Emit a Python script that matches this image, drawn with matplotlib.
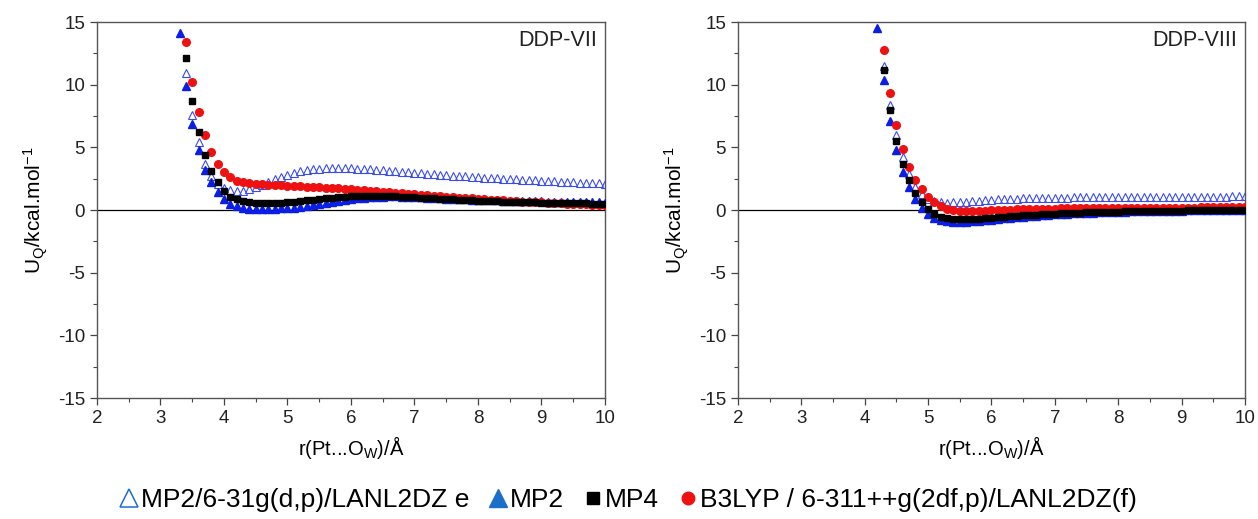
import numpy as np
import matplotlib
matplotlib.use("Agg")
import matplotlib.pyplot as plt
from matplotlib.lines import Line2D

plt.rcParams['font.family'] = ['Liberation Sans', 'DejaVu Sans']
plt.rcParams['mathtext.default'] = 'regular'
plt.rcParams['axes.unicode_minus'] = False

# ---- DDP-VII (left panel) ----
x7_mp2 = np.round(np.arange(3.3, 10.05, 0.1), 1)
x7 = np.round(np.arange(3.4, 10.05, 0.1), 1)

mp2_7 = [14.1, 9.9, 6.9, 4.8, 3.2, 2.2, 1.4, 0.85, 0.5, 0.3,
         0.18, 0.12, 0.08, 0.07, 0.08, 0.1, 0.13, 0.16, 0.2, 0.26,
         0.33, 0.4, 0.48, 0.56, 0.64, 0.72, 0.8, 0.87, 0.93, 0.98,
         1.02, 1.05, 1.07, 1.08, 1.08, 1.07, 1.05, 1.03, 1.0, 0.98,
         0.96, 0.93, 0.91, 0.89, 0.87, 0.85, 0.83, 0.81, 0.79, 0.78,
         0.76, 0.75, 0.73, 0.72, 0.71, 0.7, 0.69, 0.68, 0.67, 0.66,
         0.65, 0.64, 0.63, 0.62, 0.61, 0.61, 0.6, 0.59]

mp4_7 = [12.1, 8.7, 6.25, 4.4, 3.1, 2.2, 1.5, 1.06, 0.85, 0.72,
         0.62, 0.56, 0.53, 0.53, 0.55, 0.58, 0.62, 0.67, 0.72, 0.77,
         0.82, 0.87, 0.92, 0.97, 1.01, 1.05, 1.08, 1.11, 1.13, 1.14,
         1.14, 1.13, 1.12, 1.1, 1.07, 1.04, 1.01, 0.98, 0.95, 0.92,
         0.89, 0.86, 0.84, 0.81, 0.79, 0.77, 0.75, 0.73, 0.71, 0.69,
         0.67, 0.66, 0.64, 0.63, 0.61, 0.6, 0.59, 0.58, 0.57, 0.56,
         0.55, 0.54, 0.53, 0.52, 0.51, 0.5, 0.5]

b3lyp_7 = [13.4, 10.2, 7.8, 6.0, 4.65, 3.7, 3.0, 2.6, 2.35, 2.2,
           2.12, 2.07, 2.04, 2.01, 1.99, 1.97, 1.95, 1.92, 1.89, 1.86,
           1.84, 1.81, 1.78, 1.75, 1.72, 1.69, 1.66, 1.62, 1.58, 1.54,
           1.5, 1.46, 1.42, 1.38, 1.34, 1.3, 1.26, 1.22, 1.18, 1.14,
           1.1, 1.06, 1.02, 0.98, 0.95, 0.92, 0.88, 0.85, 0.82, 0.79,
           0.76, 0.73, 0.7, 0.67, 0.65, 0.62, 0.6, 0.57, 0.55, 0.53,
           0.5, 0.48, 0.46, 0.44, 0.42, 0.4, 0.38]

mp2b_7 = [10.9, 7.6, 5.4, 3.7, 2.7, 2.1, 1.75, 1.58, 1.52, 1.55,
          1.65, 1.82, 2.03, 2.25, 2.46, 2.65, 2.82, 2.97, 3.09, 3.19,
          3.26, 3.31, 3.34, 3.35, 3.35, 3.34, 3.32, 3.3, 3.27, 3.24,
          3.2, 3.17, 3.13, 3.09, 3.05, 3.01, 2.97, 2.93, 2.89, 2.86,
          2.82, 2.79, 2.75, 2.72, 2.68, 2.65, 2.62, 2.59, 2.56, 2.53,
          2.5, 2.47, 2.44, 2.42, 2.39, 2.36, 2.34, 2.31, 2.29, 2.26,
          2.24, 2.22, 2.19, 2.17, 2.15, 2.13, 2.11]

# ---- DDP-VIII (right panel) ----
x8_mp2 = np.round(np.arange(4.2, 10.05, 0.1), 1)
x8 = np.round(np.arange(4.3, 10.05, 0.1), 1)

mp2_8 = [14.5, 10.35, 7.1, 4.8, 3.06, 1.8, 0.85, 0.2, -0.3, -0.6,
         -0.78, -0.88, -0.92, -0.93, -0.92, -0.89, -0.85, -0.81, -0.76, -0.71,
         -0.66, -0.61, -0.56, -0.52, -0.48, -0.44, -0.4, -0.37, -0.34, -0.31,
         -0.28, -0.26, -0.24, -0.22, -0.2, -0.18, -0.16, -0.15, -0.13, -0.12,
         -0.11, -0.1, -0.09, -0.08, -0.07, -0.06, -0.05, -0.05, -0.04, -0.03,
         -0.03, -0.02, -0.02, -0.01, -0.01, 0.0, 0.0, 0.0, 0.0]

mp4_8 = [11.2, 8.0, 5.5, 3.65, 2.37, 1.39, 0.64, 0.1, -0.28, -0.52,
         -0.66, -0.73, -0.75, -0.74, -0.72, -0.69, -0.65, -0.61, -0.57, -0.53,
         -0.49, -0.45, -0.42, -0.39, -0.36, -0.33, -0.3, -0.28, -0.26, -0.24,
         -0.22, -0.2, -0.18, -0.17, -0.15, -0.14, -0.13, -0.12, -0.11, -0.1,
         -0.09, -0.08, -0.07, -0.06, -0.06, -0.05, -0.04, -0.04, -0.03, -0.03,
         -0.02, -0.02, -0.01, -0.01, -0.01, 0.0, 0.0, 0.0]

b3lyp_8 = [12.8, 9.37, 6.8, 4.9, 3.46, 2.37, 1.65, 1.07, 0.64, 0.32,
           0.12, 0.0, -0.06, -0.08, -0.08, -0.07, -0.05, -0.03, -0.01, 0.01,
           0.03, 0.05, 0.07, 0.08, 0.09, 0.1, 0.11, 0.12, 0.13, 0.14,
           0.14, 0.15, 0.15, 0.16, 0.16, 0.17, 0.17, 0.17, 0.18, 0.18,
           0.18, 0.19, 0.19, 0.19, 0.19, 0.2, 0.2, 0.2, 0.2, 0.2,
           0.21, 0.21, 0.21, 0.21, 0.21, 0.22, 0.22, 0.22]

mp2b_8 = [11.5, 8.35, 6.0, 4.2, 2.85, 1.87, 1.25, 0.85, 0.68, 0.6,
          0.58, 0.6, 0.63, 0.67, 0.71, 0.75, 0.78, 0.81, 0.84, 0.86,
          0.88, 0.9, 0.92, 0.93, 0.94, 0.95, 0.96, 0.97, 0.98, 0.99,
          1.0, 1.0, 1.01, 1.01, 1.02, 1.02, 1.03, 1.03, 1.03, 1.04,
          1.04, 1.04, 1.05, 1.05, 1.05, 1.05, 1.06, 1.06, 1.06, 1.06,
          1.07, 1.07, 1.07, 1.07, 1.07, 1.08, 1.08, 1.08]

labels = ["MP2/6-31g(d,p)/LANL2DZ e", "MP2", "MP4",
          "B3LYP / 6-311++g(2df,p)/LANL2DZ(f)"]


def draw_panel(ax, xm, x, mp2b, mp2, b3lyp, mp4, tag):
    ax.axhline(0, color='black', lw=0.9, zorder=1)
    ax.plot(x, mp2b, ls='none', marker='^', ms=6, mfc='none',
            mec='#3a4cf0', mew=0.8, zorder=2)
    ax.plot(xm, mp2, ls='none', marker='^', ms=6, color='#0a1ee6', zorder=3)
    ax.plot(x, b3lyp, ls='none', marker='o', ms=5.5, color='#ee1111', zorder=4)
    ax.plot(x, mp4, ls='none', marker='s', ms=4.6, color='black', zorder=5)
    ax.set_xlim(2, 10)
    ax.set_ylim(-15, 15)
    ax.set_xticks(range(2, 11))
    ax.set_yticks(range(-15, 16, 5))
    ax.set_xticks(np.arange(2, 10.01, 0.5), minor=True)
    ax.set_yticks(np.arange(-15, 15.1, 2.5), minor=True)
    ax.tick_params(direction='out', length=5, width=0.9, labelsize=13.5,
                   color='#444444', labelcolor='#222222')
    ax.tick_params(which='minor', direction='out', length=3, width=0.8,
                   color='#444444')
    for s in ax.spines.values():
        s.set_color('#555555')
        s.set_linewidth(1.0)
    ax.set_xlabel('r(Pt...O$_W$)/Å', fontsize=14.5, labelpad=5)
    ax.set_ylabel('U$_Q$/kcal.mol$^{-1}$', fontsize=15, labelpad=6)
    ax.text(9.88, 14.4, tag, ha='right', va='top', fontsize=15.5,
            color='#222222')


fig = plt.figure(figsize=(12.58, 5.19), dpi=100)
ax1 = fig.add_axes([0.0771, 0.2331, 0.4038, 0.7245])
ax2 = fig.add_axes([0.5866, 0.2331, 0.4030, 0.7245])

draw_panel(ax1, x7_mp2, x7, mp2b_7, mp2_7, b3lyp_7, mp4_7, 'DDP-VII')
draw_panel(ax2, x8_mp2, x8, mp2b_8, mp2_8, b3lyp_8, mp4_8, 'DDP-VIII')

handles = [
    Line2D([], [], ls='none', marker='^', ms=13, mfc='none', mec='#1b6fd0', mew=1.1),
    Line2D([], [], ls='none', marker='^', ms=13, color='#1b6fc8'),
    Line2D([], [], ls='none', marker='s', ms=8, color='black'),
    Line2D([], [], ls='none', marker='o', ms=9, color='#ee1111'),
]
fig.legend(handles, labels, loc='center', bbox_to_anchor=(0.5, 0.036),
           ncol=4, frameon=False, fontsize=19, handlelength=0.6,
           handletextpad=0.15, columnspacing=0.8, borderaxespad=0)

fig.savefig('out.png', dpi=100)
